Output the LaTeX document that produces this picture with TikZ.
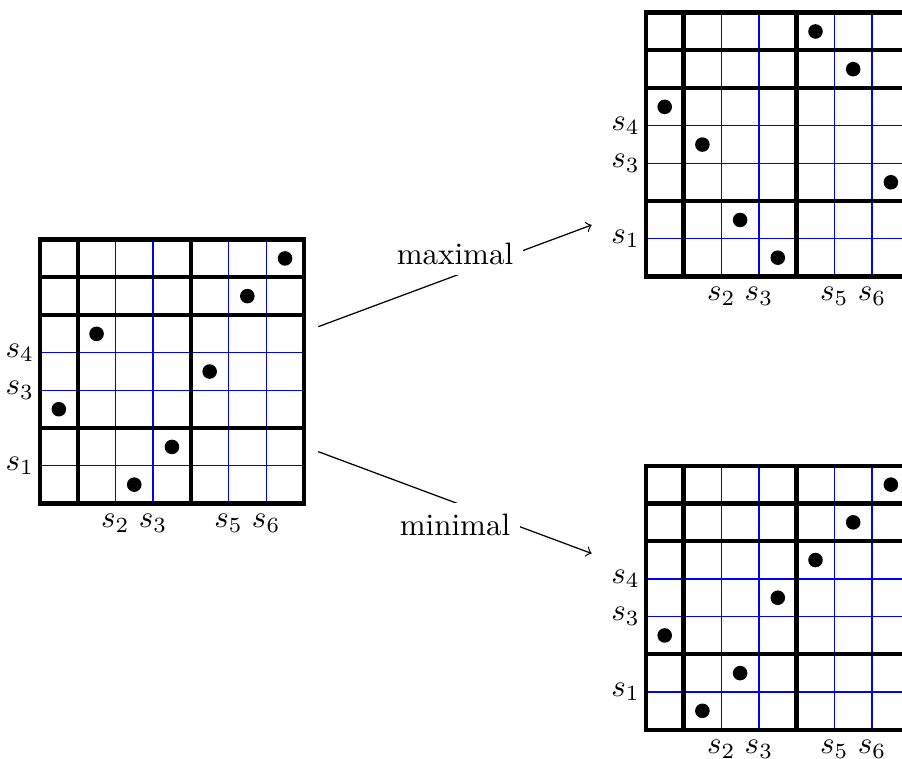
\documentclass[tikz,border=0pt]{standalone}
\tikzset{
  thickline/.style={line width=1.4pt},
  blueline/.style={blue, line width=0.4pt},
  dot/.style={circle, fill=black, inner sep=0pt, minimum size=4.7pt},
  conn/.style={->, line width=0.4pt},
  sidelab/.style={left, xshift=1.6pt},
  botlab/.style={below},
}
\newcommand\permgrid[3]{%
  \begin{scope}[shift={#2}]
    \foreach \c in {2,3,5,6} \draw[blueline] (\c,0) -- (\c,7);
    \foreach \r in {1,3,4} \draw[blueline] (0,\r) -- (7,\r);
    \draw[thickline] (0,0) rectangle (7,7);
    \foreach \c in {1,4} \draw[thickline] (\c,0) -- (\c,7);
    \foreach \r in {2,5,6} \draw[thickline] (0,\r) -- (7,\r);
    \foreach \x/\y [count=\i] in {#3} \node[dot] (#1-d\i) at (\x,\y) {};
    \node[sidelab] (#1-l4) at (0,4) {$s_4$};
    \node[sidelab] (#1-l3) at (0,3) {$s_3$};
    \node[sidelab] (#1-l1) at (0,1) {$s_1$};
    \node[botlab] (#1-b2) at (2,0) {$s_2$};
    \node[botlab] (#1-b3) at (3,0) {$s_3$};
    \node[botlab] (#1-b5) at (5,0) {$s_5$};
    \node[botlab] (#1-b6) at (6,0) {$s_6$};
  \end{scope}}
\begin{document}
\begin{tikzpicture}[x=12.16pt, y=12.16pt]
  \useasboundingbox (-1.061,-6.777) rectangle (22.865,13.355);
  \permgrid{L}{(0,0)}{6.5/6.5, 5.5/5.5, 1.5/4.5, 4.5/3.5, 0.5/2.5, 3.5/1.5, 2.5/0.5}
  \permgrid{T}{(16.07,6.02)}{4.5/6.5, 5.5/5.5, 0.5/4.5, 1.5/3.5, 6.5/2.5, 2.5/1.5, 3.5/0.5}
  \permgrid{B}{(16.07,-6.0)}{6.5/6.5, 5.5/5.5, 4.5/4.5, 3.5/3.5, 0.5/2.5, 2.5/1.5, 1.5/0.5}
  \coordinate (maxs) at (7.382,4.690);
  \coordinate (maxe) at (14.634,7.387);
  \coordinate (mins) at (7.382,1.374);
  \coordinate (mine) at (14.634,-1.326);
  \draw[conn] (maxs) -- node[above, fill=white] (maxlab) {maximal} (maxe);
  \draw[conn] (mins) -- node[below, fill=white] (minlab) {minimal} (mine);
\end{tikzpicture}
\end{document}
